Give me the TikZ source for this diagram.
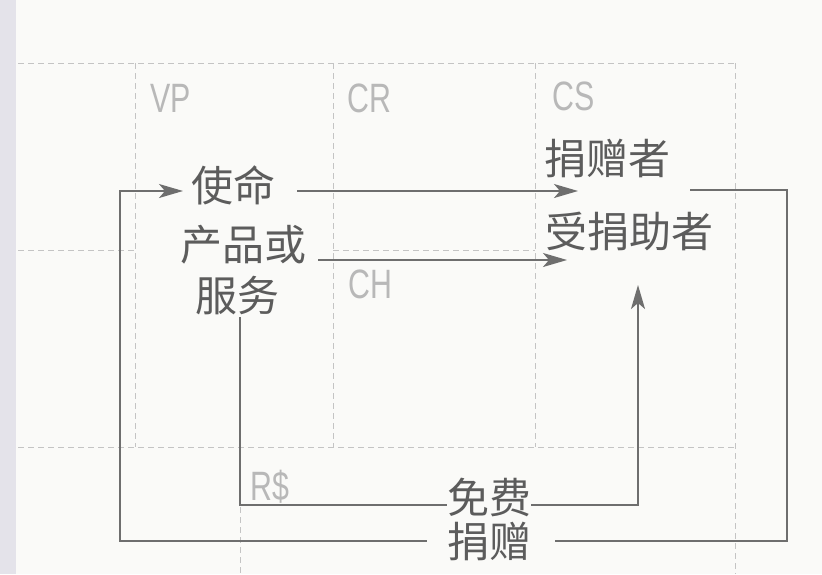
\documentclass[tikz,border=0pt]{standalone}
\usepackage{fontspec}
\usetikzlibrary{arrows.meta}
\newfontfamily\cjk{Noto Sans CJK SC}
\newfontfamily\labf[FakeStretch=0.74]{Liberation Sans}
\definecolor{bgc}{HTML}{FAFAF8}
\definecolor{stripc}{HTML}{E4E3EA}
\definecolor{gridc}{HTML}{C4C4C4}
\definecolor{labc}{HTML}{B8B8B8}
\definecolor{txtc}{HTML}{5C5C5C}
\definecolor{linec}{HTML}{6E6E6E}
\tikzset{
  gridline/.style={draw=gridc, line width=1pt, dash pattern=on 6pt off 4pt},
  lab/.style={anchor=base west, inner sep=0pt, text=labc, font=\labf\fontsize{41pt}{44pt}\selectfont},
  word/.style={inner sep=0pt, text=txtc, font=\cjk\fontsize{42pt}{46pt}\selectfont},
  conn/.style={draw=linec, line width=1.8pt},
  arr/.style={conn, -{Stealth[length=24pt,width=14pt,inset=6pt]}}
}
\begin{document}
\begin{tikzpicture}[x=1pt,y=-1pt]
\useasboundingbox (0,0) rectangle (822,574);
\fill[bgc] (0,0) rectangle (822,574);
\fill[stripc] (0,0) rectangle (16,574);
% grid
\draw[gridline] (18,63) -- (735,63);
\draw[gridline] (18,250) -- (135,250);
\draw[gridline] (333,250) -- (535,250);
\draw[gridline] (18,447) -- (735,447);
\draw[gridline] (135,63) -- (135,447);
\draw[gridline] (333,63) -- (333,447);
\draw[gridline] (535,63) -- (535,447);
\draw[gridline] (735,63) -- (735,574);
\draw[gridline] (240,447) -- (240,574);
% labels
\node[lab] (vp) at (150,112) {VP};
\node[lab] (cr) at (347,112) {CR};
\node[lab] (cs) at (552,110) {CS};
\node[lab] (ch) at (348,298) {CH};
\node[lab] (rs) at (250,500) {R\$};
% words
\node[word] (shiming) at (233,185) {使命};
\node[word] (chanpin) at (243,245) {产品或};
\node[word] (fuwu) at (237,296) {服务};
\node[word] (juanzengzhe) at (607,158) {捐赠者};
\node[word] (shouzhu) at (629,231) {受捐助者};
\node[word] (mianfei) at (489,497) {免费};
\node[word] (juanzeng) at (489,541) {捐赠};
% connector end points
\coordinate (a1s) at (297,191);
\coordinate (a1e) at (578,191);
\coordinate (a2s) at (318,260);
\coordinate (a2e) at (567,260);
\coordinate (a3s) at (240,317);
\coordinate (a3e) at (638,285);
\coordinate (a4s) at (690,190);
\coordinate (a4e) at (183,191);
% connectors
\draw[arr] (a1s) -- (a1e);
\draw[arr] (a2s) -- (a2e);
\draw[conn] (a3s) -- (240,505) -- (mianfei.west |- 0,505);
\draw[arr] (mianfei.east |- 0,505) -- (638,505) -- (a3e);
\draw[conn] (a4s) -- (787,190) -- (787,541) -- ([xshift=24pt]juanzeng.east |- 0,541);
\draw[arr] ([xshift=-20pt]juanzeng.west |- 0,541) -- (120,541) -- (120,191) -- (a4e);
\end{tikzpicture}
\end{document}
